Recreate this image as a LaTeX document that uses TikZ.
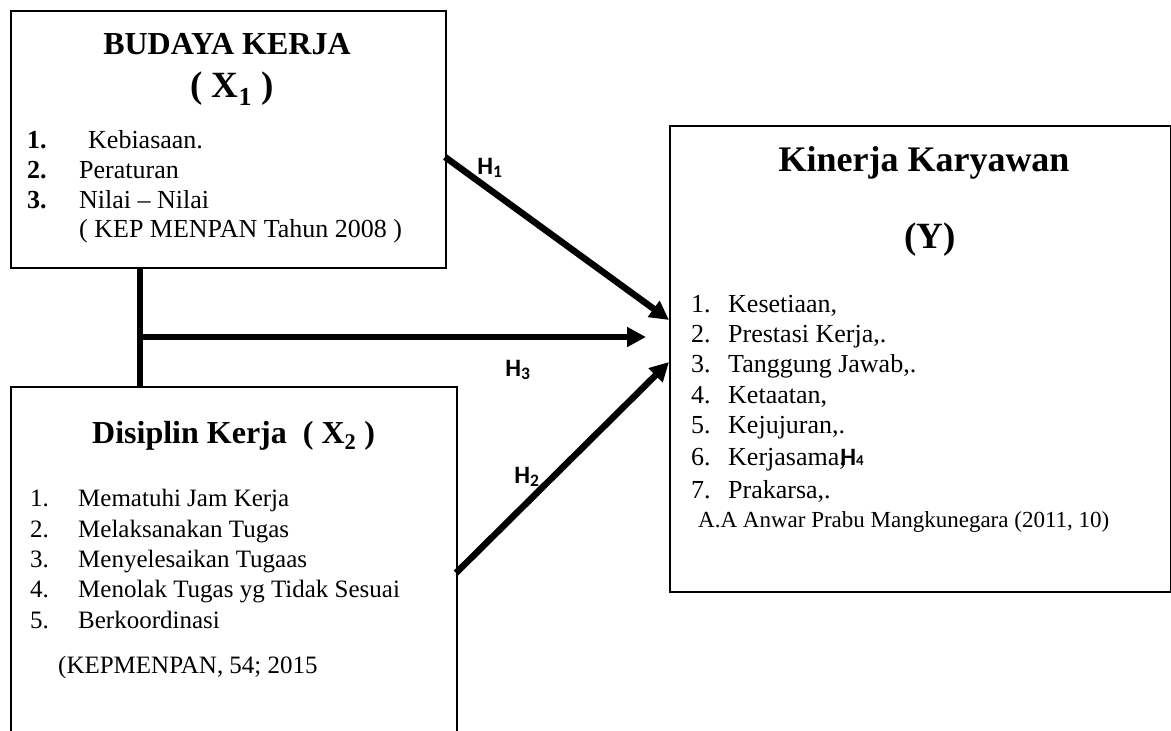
\documentclass[tikz,border=0pt]{standalone}
\usepackage{fontspec}
\setmainfont{Liberation Serif}
\newfontfamily\calibri{Carlito}
\usetikzlibrary{arrows.meta}
\tikzset{
  box/.style={draw, line width=1.5pt, rectangle, anchor=north west, inner sep=0pt},
  txt/.style={anchor=base west, inner sep=0pt},
  ctxt/.style={anchor=base, inner sep=0pt},
  link/.style={line width=6.5pt},
  arr/.style={line width=6.5pt, -{Triangle[length=19pt,width=19pt]}},
  hlab/.style={anchor=base, inner sep=0pt, font=\calibri\bfseries\fontsize{25}{28}\selectfont},
}
\newcommand{\fs}[1]{\fontsize{#1}{#1}\selectfont}
\begin{document}
\begin{tikzpicture}[x=1pt,y=-1pt]
\useasboundingbox (0,0) rectangle (1171,731);
\clip (0,0) rectangle (1171,731);
% boxes
\node[box, minimum width=435pt, minimum height=257pt] (b1) at (10,10) {};
\node[box, minimum width=446pt, minimum height=380pt] (b2) at (10,386) {};
\node[box, minimum width=501pt, minimum height=466pt] (b3) at (669,125) {};
% box 1 text
\node[ctxt, font=\bfseries\fs{32}] (t1) at (227,54) {BUDAYA KERJA};
\node[ctxt, font=\bfseries\fs{37}] (t1b) at (232,97) {( X\textsubscript{1} )};
\node[txt, font=\fs{26}] (n11) at (27,148) {\textbf{1.}};
\node[txt, font=\fs{26}] (i11) at (88,148) {Kebiasaan.};
\node[txt, font=\fs{26}] (n12) at (27,178) {\textbf{2.}};
\node[txt, font=\fs{26}] (i12) at (79,178) {Peraturan};
\node[txt, font=\fs{26}] (n13) at (27,208) {\textbf{3.}};
\node[txt, font=\fs{26}] (i13) at (79,208) {Nilai -- Nilai};
\node[txt, font=\fs{26}] (c1) at (79,237) {( KEP MENPAN Tahun 2008 )};
% box 2 text
\node[txt, font=\bfseries\fs{32}] (t2) at (92,443) {Disiplin Kerja\ \ ( X\textsubscript{2} )};
\node[txt, font=\fs{25}] (n21) at (30,506) {1.};
\node[txt, font=\fs{25}] (i21) at (78,506) {Mematuhi Jam Kerja};
\node[txt, font=\fs{25}] (n22) at (30,537) {2.};
\node[txt, font=\fs{25}] (i22) at (78,537) {Melaksanakan Tugas};
\node[txt, font=\fs{25}] (n23) at (30,567) {3.};
\node[txt, font=\fs{25}] (i23) at (78,567) {Menyelesaikan Tugaas};
\node[txt, font=\fs{25}] (n24) at (30,597) {4.};
\node[txt, font=\fs{25}] (i24) at (78,597) {Menolak Tugas yg Tidak Sesuai};
\node[txt, font=\fs{25}] (n25) at (30,628) {5.};
\node[txt, font=\fs{25}] (i25) at (78,628) {Berkoordinasi};
\node[txt, font=\fs{25}] (c2) at (58,673) {(KEPMENPAN, 54; 2015};
% box 3 text
\node[ctxt, font=\bfseries\fs{36}] (t3) at (924,171) {Kinerja Karyawan};
\node[ctxt, font=\bfseries\fs{37}] (t3b) at (930,248) {(Y)};
\node[txt, font=\fs{26}] (n31) at (691,312) {1.};
\node[txt, font=\fs{26}] (i31) at (728,312) {Kesetiaan,};
\node[txt, font=\fs{26}] (n32) at (691,342) {2.};
\node[txt, font=\fs{26}] (i32) at (728,342) {Prestasi Kerja,.};
\node[txt, font=\fs{26}] (n33) at (691,372) {3.};
\node[txt, font=\fs{26}] (i33) at (728,372) {Tanggung Jawab,.};
\node[txt, font=\fs{26}] (n34) at (691,403) {4.};
\node[txt, font=\fs{26}] (i34) at (728,403) {Ketaatan,};
\node[txt, font=\fs{26}] (n35) at (691,433) {5.};
\node[txt, font=\fs{26}] (i35) at (728,433) {Kejujuran,.};
\node[txt, font=\fs{26}] (n36) at (691,465) {6.};
\node[txt, font=\fs{26}] (i36) at (728,465) {Kerjasama,};
\node[txt, font=\fs{26}] (n37) at (691,498) {7.};
\node[txt, font=\fs{26}] (i37) at (728,498) {Prakarsa,.};
\node[txt, font=\fs{23}] (c3) at (698,527) {A.A Anwar Prabu Mangkunegara (2011, 10)};
% connectors
\coordinate (j) at (140,337);
\coordinate (h3e) at (646,337);
\coordinate (h1s) at (445,157);
\coordinate (h1e) at (669,320);
\coordinate (h2s) at (456,573);
\coordinate (h2e) at (669,362);
\draw[link] (b1.south -| j) -- (b2.north -| j);
\draw[arr] (j) -- (h3e);
\draw[arr] (h1s) -- (h1e);
\draw[arr] (h2s) -- (h2e);
% labels
\node[hlab] (h1) at (490,174) {H\textsubscript{1}};
\node[hlab] (h3) at (518,376) {H\textsubscript{3}};
\node[hlab] (h2) at (527,483) {H\textsubscript{2}};
\node[hlab] (h4) at (852,465) {H{\fontsize{15}{15}\selectfont 4}};
\end{tikzpicture}
\end{document}
